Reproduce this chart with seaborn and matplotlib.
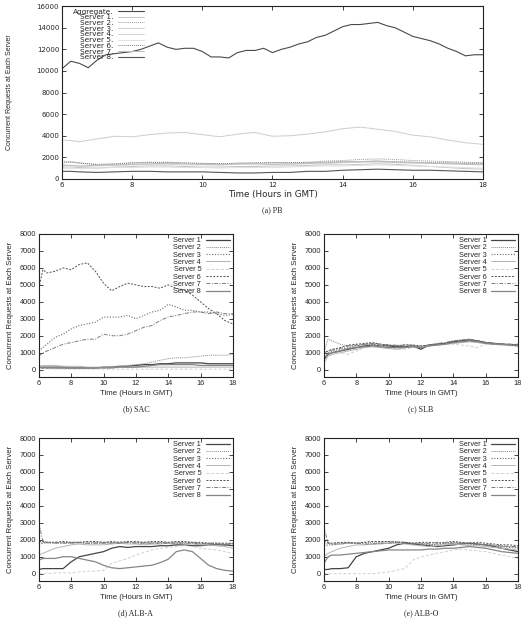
import numpy as np
import pandas as pd
import matplotlib
matplotlib.use("Agg")
import matplotlib.pyplot as plt
import seaborn as sns

# ---- data (hours 6..18) ----
hours = [6, 6.25, 6.5, 7, 7.5, 8, 8.5, 9, 9.5, 10, 10.5, 11, 11.5, 12, 12.5,
         13, 13.5, 14, 14.5, 15, 15.5, 16, 16.5, 17, 17.5, 18]
hours_fine = [6 + 0.25 * i for i in range(49)]

servers = ["Server 1", "Server 2", "Server 3", "Server 4",
           "Server 5", "Server 6", "Server 7", "Server 8"]

# (a) PB
pb_agg = [10200, 10900, 10700, 10300, 11000, 11500, 11600, 11700, 11800, 12000,
          12300, 12600, 12200, 12000, 12100, 12100, 11800, 11300, 11300, 11200,
          11700, 11900, 11900, 12100, 11700, 12000, 12200, 12500, 12700, 13100,
          13300, 13700, 14100, 14300, 14300, 14400, 14500, 14200, 14000, 13600,
          13200, 13000, 12800, 12500, 12100, 11800, 11400, 11500, 11500]
pb_s1 = [1100, 1100, 1050, 1000, 1100, 1150, 1200, 1200, 1150, 1100, 1100, 1150, 1150,
         1200, 1200, 1250, 1300, 1300, 1350, 1400, 1350, 1250, 1150, 1050, 950, 900]
pb_s2 = [1650, 1600, 1500, 1300, 1350, 1450, 1500, 1550, 1500, 1450, 1400, 1450, 1500,
         1500, 1500, 1550, 1650, 1700, 1800, 1850, 1800, 1700, 1650, 1600, 1550, 1500]
pb_s3 = [3600, 3550, 3450, 3700, 3950, 3900, 4100, 4250, 4300, 4100, 3900, 4150, 4300,
         3950, 4000, 4150, 4350, 4650, 4800, 4600, 4400, 4050, 3900, 3600, 3350, 3200]
pb_s4 = [1200, 1250, 1150, 1200, 1250, 1300, 1350, 1350, 1300, 1300, 1300, 1350, 1300,
         1350, 1350, 1400, 1400, 1500, 1550, 1550, 1500, 1450, 1450, 1400, 1400, 1350]
pb_s5 = [1000, 950, 950, 1000, 1050, 1050, 1100, 1100, 1050, 1050, 1000, 1050, 1050,
         1050, 1100, 1150, 1200, 1200, 1250, 1300, 1250, 1200, 1150, 1100, 1050, 1000]
pb_s6 = [1500, 1550, 1450, 1350, 1400, 1500, 1550, 1500, 1450, 1400, 1400, 1450, 1450,
         1500, 1500, 1500, 1550, 1600, 1600, 1650, 1600, 1550, 1500, 1500, 1450, 1450]
pb_s7 = [1300, 1250, 1200, 1250, 1300, 1350, 1400, 1450, 1400, 1350, 1300, 1400, 1450,
         1350, 1400, 1450, 1500, 1550, 1600, 1650, 1550, 1500, 1450, 1400, 1350, 1300]
pb_s8 = [700, 700, 650, 600, 650, 700, 700, 650, 650, 650, 600, 550, 550,
         600, 600, 700, 700, 800, 850, 900, 850, 800, 800, 750, 700, 650]

# (b) SAC
sac_s1 = [100, 100, 100, 100, 100, 100, 100, 100, 100, 150, 150, 200, 200,
          250, 300, 300, 350, 350, 400, 400, 400, 400, 350, 350, 350, 350]
sac_s2 = [200, 200, 200, 200, 150, 150, 100, 100, 100, 150, 200, 200, 250,
          300, 350, 450, 550, 650, 700, 700, 750, 800, 850, 850, 850, 900]
sac_s3 = [1100, 1300, 1500, 1900, 2100, 2400, 2600, 2700, 2800, 3100, 3100, 3100, 3200,
          3000, 3200, 3400, 3500, 3850, 3700, 3500, 3500, 3400, 3400, 3300, 3200, 3250]
sac_s4 = [200, 250, 250, 250, 200, 200, 200, 150, 150, 150, 150, 150, 150,
          150, 150, 150, 150, 150, 150, 150, 150, 150, 150, 150, 150, 150]
sac_s5 = [80, 60, 50, 40, 30, 30, 30, 30, 30, 30, 30, 30, 30,
          30, 30, 30, 30, 30, 30, 30, 30, 30, 30, 30, 30, 30]
sac_s6 = [4800, 5900, 5700, 5800, 6000, 5900, 6200, 6300, 5800, 5100, 4650, 4900, 5100,
          5000, 4900, 4900, 4800, 5000, 4800, 4700, 4400, 4000, 3600, 3300, 2900, 2700]
sac_s7 = [800, 1000, 1100, 1300, 1500, 1600, 1700, 1800, 1800, 2100, 2000, 2000, 2100,
          2300, 2500, 2600, 2900, 3100, 3200, 3300, 3400, 3400, 3300, 3400, 3300, 3300]
sac_s8 = [150, 150, 150, 150, 150, 100, 100, 100, 100, 100, 100, 150, 150,
          150, 200, 250, 300, 300, 300, 300, 300, 250, 250, 250, 250, 250]

# (c) SLB
slb_s1 = [600, 900, 1000, 1100, 1200, 1300, 1400, 1450, 1400, 1400, 1350, 1350, 1400,
          1200, 1450, 1500, 1550, 1650, 1700, 1750, 1700, 1600, 1550, 1500, 1450, 1450]
slb_s2 = [1000, 1800, 1700, 1500, 1400, 1400, 1500, 1550, 1500, 1450, 1400, 1500, 1450,
          1400, 1450, 1500, 1500, 1550, 1600, 1650, 1600, 1550, 1500, 1500, 1450, 1450]
slb_s3 = [800, 1000, 1100, 1200, 1300, 1400, 1500, 1500, 1450, 1400, 1400, 1350, 1400,
          1350, 1450, 1500, 1550, 1700, 1750, 1800, 1700, 1600, 1550, 1500, 1500, 1450]
slb_s4 = [400, 800, 900, 1000, 1100, 1200, 1300, 1350, 1300, 1250, 1200, 1300, 1350,
          1300, 1400, 1450, 1500, 1550, 1600, 1650, 1600, 1550, 1500, 1450, 1450, 1400]
slb_s5 = [1000, 1100, 1200, 1000, 900, 1100, 1300, 1400, 1400, 1300, 1200, 1200, 1300,
          1400, 1400, 1450, 1500, 1500, 1450, 1400, 1300, 1500, 1500, 1450, 1400, 1400]
slb_s6 = [900, 1100, 1200, 1300, 1450, 1500, 1550, 1600, 1500, 1450, 1400, 1450, 1450,
          1400, 1450, 1500, 1550, 1650, 1700, 1750, 1700, 1600, 1550, 1500, 1500, 1450]
slb_s7 = [1000, 1100, 1150, 1250, 1400, 1450, 1500, 1550, 1500, 1450, 1450, 1400, 1400,
          1350, 1450, 1550, 1600, 1700, 1750, 1800, 1700, 1600, 1550, 1550, 1500, 1500]
slb_s8 = [700, 900, 1000, 1100, 1250, 1300, 1350, 1400, 1350, 1300, 1300, 1300, 1350,
          1300, 1400, 1450, 1500, 1600, 1650, 1700, 1650, 1550, 1500, 1500, 1450, 1400]

# (d) ALB-A
alba_s1 = [250, 300, 300, 300, 300, 700, 1000, 1100, 1200, 1300, 1500, 1600, 1550,
           1600, 1600, 1600, 1650, 1650, 1700, 1700, 1650, 1650, 1700, 1700, 1700, 1650]
alba_s2 = [1800, 1850, 1800, 1800, 1850, 1800, 1800, 1800, 1850, 1850, 1800, 1850, 1850,
           1800, 1850, 1850, 1800, 1850, 1850, 1800, 1800, 1750, 1800, 1800, 1750, 1800]
alba_s3 = [1700, 1800, 1850, 1850, 1800, 1850, 1850, 1800, 1800, 1800, 1850, 1800, 1800,
           1850, 1800, 1800, 1850, 1800, 1800, 1850, 1850, 1800, 1750, 1750, 1700, 1750]
alba_s4 = [1100, 1200, 1300, 1500, 1600, 1700, 1750, 1700, 1700, 1700, 1750, 1800, 1750,
           1750, 1700, 1750, 1750, 1800, 1800, 1750, 1750, 1700, 1700, 1650, 1600, 1500]
alba_s5 = [0, 0, 0, 50, 50, 50, 100, 150, 150, 200, 600, 750, 900,
           1100, 1250, 1400, 1500, 1550, 1600, 1650, 1600, 1500, 1450, 1400, 1300, 1200]
alba_s6 = [1900, 1900, 1850, 1850, 1900, 1850, 1850, 1900, 1900, 1850, 1900, 1850, 1900,
           1900, 1850, 1900, 1900, 1850, 1900, 1900, 1850, 1850, 1800, 1800, 1800, 1800]
alba_s7 = [3000, 1900, 1850, 1800, 1800, 1800, 1850, 1800, 1800, 1800, 1800, 1800, 1850,
           1800, 1800, 1800, 1800, 1800, 1800, 1800, 1800, 1750, 1800, 1750, 1700, 1800]
alba_s8 = [800, 900, 900, 900, 1000, 1000, 900, 800, 700, 500, 350, 300, 350,
           400, 450, 500, 650, 850, 1300, 1400, 1300, 900, 500, 300, 200, 150]

# (e) ALB-O
albo_s1 = [250, 250, 300, 300, 350, 1000, 1200, 1300, 1400, 1500, 1700, 1800, 1750,
           1700, 1650, 1600, 1650, 1700, 1750, 1800, 1750, 1700, 1600, 1500, 1400, 1300]
albo_s2 = [1700, 1800, 1750, 1800, 1850, 1800, 1850, 1850, 1850, 1900, 1900, 1850, 1800,
           1800, 1750, 1700, 1750, 1800, 1800, 1800, 1750, 1700, 1650, 1600, 1600, 1550]
albo_s3 = [1600, 1700, 1700, 1750, 1800, 1800, 1750, 1750, 1800, 1800, 1850, 1850, 1800,
           1750, 1700, 1750, 1800, 1850, 1800, 1750, 1700, 1700, 1650, 1600, 1550, 1500]
albo_s4 = [1000, 1200, 1300, 1500, 1600, 1700, 1700, 1750, 1750, 1800, 1800, 1750, 1700,
           1650, 1600, 1650, 1700, 1750, 1700, 1650, 1650, 1600, 1550, 1500, 1450, 1400]
albo_s5 = [0, 0, 0, 0, 0, 0, 0, 0, 50, 100, 200, 300, 800,
           1000, 1100, 1200, 1300, 1400, 1450, 1400, 1350, 1300, 1200, 1100, 1000, 900]
albo_s6 = [1900, 1850, 1800, 1850, 1850, 1800, 1850, 1900, 1900, 1900, 1850, 1850, 1800,
           1850, 1850, 1800, 1850, 1900, 1850, 1800, 1850, 1800, 1750, 1700, 1700, 1650]
albo_s7 = [2800, 1800, 1750, 1750, 1800, 1800, 1750, 1750, 1800, 1800, 1850, 1800, 1750,
           1750, 1800, 1850, 1800, 1800, 1800, 1750, 1750, 1700, 1700, 1650, 1600, 1600]
albo_s8 = [600, 1000, 1100, 1100, 1150, 1200, 1250, 1300, 1350, 1400, 1400, 1400, 1400,
           1400, 1450, 1450, 1500, 1500, 1550, 1600, 1550, 1500, 1400, 1300, 1250, 1200]

# ---- styles (gnuplot-like grey line types) ----
server_style = {
    "Server 1": dict(color="#454545", linestyle="-", linewidth=0.9),
    "Server 2": dict(color="#8a8a8a", linestyle=(0, (1, 1)), linewidth=0.7),
    "Server 3": dict(color="#6a6a6a", linestyle=(0, (1, 1.5)), linewidth=0.8),
    "Server 4": dict(color="#b5b5b5", linestyle="-", linewidth=0.7),
    "Server 5": dict(color="#cfcfcf", linestyle=(0, (3, 2)), linewidth=0.7),
    "Server 6": dict(color="#505050", linestyle=(0, (2, 1.5)), linewidth=0.7),
    "Server 7": dict(color="#7c7c7c", linestyle=(0, (4, 1.5, 1, 1.5)), linewidth=0.7),
    "Server 8": dict(color="#858585", linestyle="-", linewidth=0.9),
}
pb_style = {
    "Aggregate.": dict(color="#4a4a4a", linestyle="-", linewidth=0.8),
    "Server 1.": dict(color="#c4c4c4", linestyle="-", linewidth=0.7),
    "Server 2.": dict(color="#9a9a9a", linestyle=(0, (1, 1)), linewidth=0.7),
    "Server 3.": dict(color="#cdcdcd", linestyle="-", linewidth=0.7),
    "Server 4.": dict(color="#d5d5d5", linestyle="-", linewidth=0.7),
    "Server 5.": dict(color="#e0e0e0", linestyle="-", linewidth=0.7),
    "Server 6.": dict(color="#7a7a7a", linestyle=(0, (1, 1)), linewidth=0.7),
    "Server 7.": dict(color="#bdbdbd", linestyle="-", linewidth=0.7),
    "Server 8.": dict(color="#555555", linestyle="-", linewidth=0.8),
}


def style_axes(ax, fs, fam):
    ax.tick_params(direction="in", top=True, right=True, length=3, width=0.6,
                   labelsize=fs, pad=2)
    for lab in ax.get_xticklabels() + ax.get_yticklabels():
        lab.set_family(fam)
    for sp in ax.spines.values():
        sp.set_linewidth(0.8)
        sp.set_color("#222222")


def small_panel(ax, series, caption):
    for name, vals in zip(servers, series):
        sns.lineplot(x=hours, y=vals, ax=ax, label=name, estimator=None,
                     **server_style[name])
    ax.set_xlim(6, 18)
    ax.set_ylim(-430, 8000)
    ax.set_xticks(range(6, 19, 2))
    ax.set_yticks(range(0, 8001, 1000))
    ax.set_xlabel("Time (Hours in GMT)", fontsize=5.6, labelpad=2)
    ax.set_ylabel("Concurrent Requests at Each Server", fontsize=5.6, labelpad=4)
    style_axes(ax, 5.3, "Liberation Sans")
    ax.legend(loc="upper right", frameon=False, fontsize=5.3, markerfirst=False,
              handlelength=3.2, handletextpad=0.7, labelspacing=0.02,
              borderaxespad=0.3, borderpad=0.1)
    ax.text(0.5, -0.225, caption, transform=ax.transAxes, ha="center", va="center",
            fontsize=5.8, family="Liberation Serif")


def main():
    sns.set_style("ticks")
    plt.rcParams["font.family"] = ["Liberation Sans", "DejaVu Sans"]

    fig = plt.figure(figsize=(5.25, 6.19), dpi=100)

    # (a) PB
    ax = fig.add_axes([0.118, 0.711, 0.802, 0.279])
    sns.lineplot(x=hours_fine, y=pb_agg, ax=ax, label="Aggregate.", estimator=None,
                 **pb_style["Aggregate."])
    pb_series = [pb_s1, pb_s2, pb_s3, pb_s4, pb_s5, pb_s6, pb_s7, pb_s8]
    for name, vals in zip(servers, pb_series):
        sns.lineplot(x=hours, y=vals, ax=ax, label=name + ".", estimator=None,
                     **pb_style[name + "."])
    ax.set_xlim(6, 18)
    ax.set_ylim(0, 16000)
    ax.set_xticks(range(6, 19, 2))
    ax.set_yticks(range(0, 16001, 2000))
    ax.set_xlabel("Time (Hours in GMT)", fontsize=6.3, family="DejaVu Sans", labelpad=2)
    ax.set_ylabel("Concurrent Requests at Each Server", fontsize=5.0, labelpad=17)
    style_axes(ax, 5.0, "DejaVu Sans")
    # gnuplot-style key: right-aligned labels with the sample line after them
    ax.legend(loc="upper left", frameon=False, markerfirst=False,
              prop={"family": "DejaVu Sans", "size": 5.3},
              handlelength=3.6, handletextpad=0.6, labelspacing=-0.06,
              borderaxespad=0.2, borderpad=0.1, bbox_to_anchor=(0.02, 1.0))
    ax.text(0.5, -0.18, "(a) PB", transform=ax.transAxes, ha="center", va="center",
            fontsize=5.8, family="Liberation Serif")

    # (b)-(e)
    w, h = 0.3695, 0.231
    small_panel(fig.add_axes([0.074, 0.391, w, h]),
                [sac_s1, sac_s2, sac_s3, sac_s4, sac_s5, sac_s6, sac_s7, sac_s8], "(b) SAC")
    small_panel(fig.add_axes([0.617, 0.391, w, h]),
                [slb_s1, slb_s2, slb_s3, slb_s4, slb_s5, slb_s6, slb_s7, slb_s8], "(c) SLB")
    small_panel(fig.add_axes([0.074, 0.0614, w, h]),
                [alba_s1, alba_s2, alba_s3, alba_s4, alba_s5, alba_s6, alba_s7, alba_s8],
                "(d) ALB-A")
    small_panel(fig.add_axes([0.617, 0.0614, w, h]),
                [albo_s1, albo_s2, albo_s3, albo_s4, albo_s5, albo_s6, albo_s7, albo_s8],
                "(e) ALB-O")

    fig.savefig("out.png", dpi=100)


if __name__ == "__main__":
    main()
